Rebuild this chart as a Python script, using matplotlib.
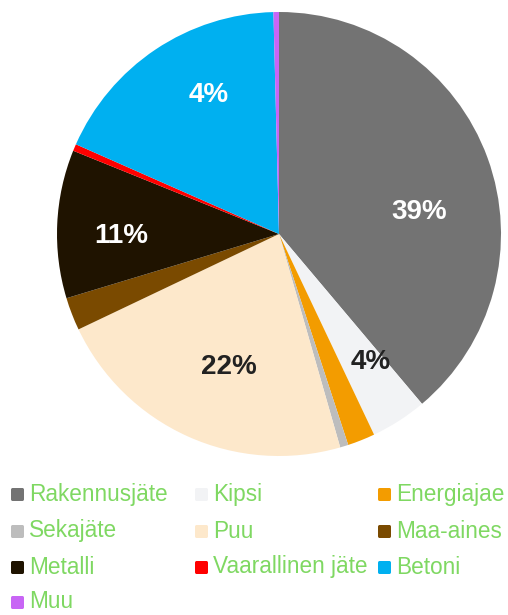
import matplotlib
matplotlib.use("Agg")
import matplotlib.pyplot as plt
from matplotlib.patches import FancyBboxPatch
import numpy as np

categories = ["Rakennusjäte", "Kipsi", "Energiajae", "Sekajäte", "Puu",
              "Maa-aines", "Metalli", "Vaarallinen jäte", "Betoni", "Muu"]
values = [38.9, 4.1, 2.0, 0.6, 22.4, 2.4, 10.8, 0.5, 18.0, 0.4]
labels = ["39%", "4%", "", "", "22%", "", "11%", "", "4%", ""]
colors = ["#737373", "#f2f3f5", "#f39c00", "#bdbdbd", "#fde8cb",
          "#7a4a00", "#1f1300", "#ff0000", "#00b0f0", "#c865f5"]
label_colors = ["white", "#222222", "white", "white", "#222222",
                "white", "white", "white", "white", "white"]
label_angle_shift = [-11, 3, 0, 0, 3.5, 0, 3.5, 0, -7, 0]
label_radius = [0.64, 0.71, 0.6, 0.6, 0.64, 0.6, 0.71, 0.6, 0.70, 0.6]

W, H = 508, 615
fig = plt.figure(figsize=(W / 100, H / 100), dpi=100)
cx, cy, r = 279, 234, 222
ax = fig.add_axes([(cx - r) / W, (H - cy - r) / H, 2 * r / W, 2 * r / H])
wedges, _ = ax.pie(values, colors=colors, startangle=90, counterclock=False,
                   radius=1.0, wedgeprops=dict(linewidth=0))
ax.set_xlim(-1, 1)
ax.set_ylim(-1, 1)
ax.set_aspect("equal")
ax.axis("off")

for w, lab, lc, sh, lr in zip(wedges, labels, label_colors, label_angle_shift, label_radius):
    if not lab:
        continue
    mid = np.deg2rad((w.theta1 + w.theta2) / 2 + sh)
    ax.text(lr * np.cos(mid), lr * np.sin(mid), lab, ha="center", va="center",
            color=lc, fontsize=20, fontweight="bold", family="Liberation Sans")

# legend, row-major, 3 columns
col_x = [10, 194, 377]
row_y = [494, 531, 567, 602]
for i, (cat, col) in enumerate(zip(categories, colors)):
    rr, cc = divmod(i, 3)
    x = col_x[cc]
    y = row_y[rr]
    box = FancyBboxPatch(((x + 1) / W, (H - y - 7) / H), 13 / W, 13 / H,
                         boxstyle="round,pad=0,rounding_size=0.003",
                         transform=fig.transFigure, facecolor=col,
                         edgecolor="none")
    fig.patches.append(box)
    fig.text((x + 19) / W, (H - y) / H, cat, ha="left", va="center",
             color="#7fd862", fontsize=16.3, family="Liberation Sans")

fig.savefig("out.png", dpi=100)
